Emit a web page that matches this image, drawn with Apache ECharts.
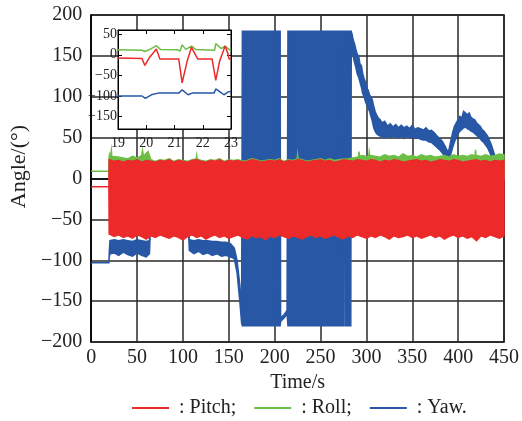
<!DOCTYPE html>
<html><head><meta charset="utf-8">
<script src="https://cdn.jsdelivr.net/npm/echarts@6/dist/echarts.min.js"></script>
<style>html,body{margin:0;padding:0;background:#fff}#c{width:522px;height:421px}</style>
</head><body><div id="c"></div>
<script>
// ---- tick values ----
const mainXTicks = [0,50,100,150,200,250,300,350,400,450];
const mainYTicks = [-200,-150,-100,-50,0,50,100,150,200];
const insetXTicks = [19,20,21,22,23];
const insetYTicks = [-150,-100,-50,0,50];

// ---- main chart: [time, low, high] envelopes ----
const pitch = [
[0,-10,-10],[19.3,-10,-10],[19.6,-68,23],[20,-68,23],[25,-71,21],[30,-69,22],[35,-72,20],[40,-70,22],[45,-73,21],[50,-69,23],[55,-71,20],[60,-74,22],[65,-70,21],[70,-72,20],[75,-69,22],[80,-71,21],[85,-73,23],[90,-70,20],[95,-72,22],[100,-75,21],[105,-71,20],[110,-69,22],[115,-72,23],[120,-70,21],[125,-74,20],[130,-71,22],[135,-69,21],[140,-72,23],[145,-70,20],[150,-73,22],[155,-71,21],[160,-69,22],[165,-72,20],[170,-74,21],[175,-70,23],[180,-72,22],[185,-71,20],[190,-75,21],[195,-70,22],[200,-72,21],[205,-69,23],[210,-71,20],[215,-73,22],[220,-70,21],[225,-72,23],[230,-74,22],[235,-71,20],[240,-69,21],[245,-72,22],[250,-70,23],[255,-73,21],[260,-71,22],[265,-69,20],[270,-72,21],[275,-74,23],[280,-70,22],[285,-72,21],[290,-69,23],[295,-71,22],[300,-73,21],[305,-70,23],[310,-72,22],[315,-69,20],[320,-71,22],[325,-74,21],[330,-70,23],[335,-72,22],[340,-71,20],[345,-69,21],[350,-72,22],[355,-70,23],[360,-73,21],[365,-71,22],[370,-69,20],[375,-72,21],[380,-70,23],[385,-74,22],[390,-71,21],[395,-69,23],[400,-72,22],[405,-70,20],[410,-73,21],[415,-71,22],[420,-76,23],[425,-70,21],[430,-72,22],[435,-69,20],[440,-71,22],[445,-73,21],[450,-70,22]
];
const roll = [
[0,9,9],[19.3,9,9],[19.6,0,26],[20,0,29],[21,0,25],[22,0,34],[22.6,0,26],[25,0,27],[30,0,26],[35,0,25],[40,0,24],[45,0,27],[50,0,25],[55,0,28],[56,0,34],[57,0,27],[60,0,31],[62,0,33],[65,0,23],[70,0,21],[75,0,23],[80,0,22],[85,0,24],[90,0,21],[95,0,23],[100,0,22],[105,0,21],[110,0,23],[114.5,0,24],[115,0,28],[115.5,0,24],[120,0,22],[125,0,21],[130,0,23],[135,0,22],[140,0,24],[145,0,21],[150,0,23],[155,0,22],[160,0,23],[165,0,21],[170,0,22],[175,0,24],[180,0,23],[185,0,21],[190,0,22],[195,0,23],[200,0,22],[205,0,24],[210,0,21],[215,0,23],[220,0,22],[224.5,0,24],[225,0,29],[225.5,0,24],[230,0,23],[235,0,21],[240,0,22],[245,0,23],[250,0,24],[255,0,22],[260,0,24],[265,0,22],[270,0,23],[275,0,24],[280,0,24],[285,0,25],[290,0,26],[291.5,0,27],[292,0,33],[292.5,0,27],[295,0,28],[300,0,27],[302.5,0,27],[303,0,32],[303.5,0,28],[305,0,28],[310,0,27],[315,0,26],[320,0,29],[325,0,27],[330,0,28],[335,0,26],[340,0,30],[345,0,27],[350,0,28],[355,0,26],[360,0,29],[365,0,27],[370,0,28],[375,0,26],[380,0,27],[385,0,28],[390,0,26],[395,0,29],[400,0,27],[405,0,28],[410,0,27],[415,0,29],[418.5,0,28],[419,0,35],[419.5,0,28],[425,0,27],[430,0,29],[435,0,27],[440,0,28],[445,0,30],[450,0,29]
];
const yaw = [
[0,-103,-103],[19.3,-103,-103],[19.8,-95,-88],[20.5,-92,-76],[25,-91,-75],[30,-94,-76],[35,-90,-75],[40,-93,-76],[45,-95,-77],[50,-91,-75],[55,-94,-76],[60,-96,-77],[63.5,-92,-76],[64.5,-62,-45],[106,-62,-45],[107,-88,-75],[112,-92,-76],[117,-89,-75],[122,-93,-76],[127,-91,-76],[132,-94,-77],[137,-92,-77],[142,-95,-78],[147,-94,-78],[152,-96,-80],[156,-98,-85],[159,-115,-100],[162,-150,-130],[164,-177,-160],[164.8,-180,180],[206,-180,180],[206.5,-175,-170],[208,-173,-169],[210,-171,-167],[212,-168,-164],[213.5,-165,-161],[214.5,-180,180],[275.5,-180,180],[275.8,176,180],[277,176,180],[277.3,-180,180],[283,-180,180],[283.5,162,180],[284.5,155,176],[285.5,150,170],[287,142,165],[288.5,136,158],[290,128,152],[291.5,124,150],[293,118,140],[294.5,112,138],[296,104,128],[297.5,100,122],[299,94,118],[300.5,90,110],[302,86,108],[303.5,82,102],[305,76,100],[306.5,70,96],[308,62,88],[309.5,58,82],[311,55,78],[313,53,74],[315,52,72],[317,51,68],[320,50,70],[323,52,64],[326,50,67],[329,52,63],[332,51,66],[335,50,62],[338,52,65],[341,49,62],[344,52,64],[347,50,61],[350,51,65],[353,49,60],[356,50,62],[359,48,61],[362,47,59],[365,47,62],[368,45,58],[371,44,59],[374,41,56],[377,38,52],[380,35,49],[383,31,45],[386,27,39],[388,24,34],[390,25,35],[392,30,46],[394,38,56],[396,45,64],[398,50,68],[400,55,72],[402,58,76],[404,60,74],[406,62,82],[408,63,80],[410,61,78],[412,60,80],[414,58,75],[416,57,73],[418,55,72],[420,53,68],[422,51,66],[424,49,64],[426,46,60],[428,44,58],[430,41,55],[432,38,52],[434,33,47],[436,28,42],[438,24,35],[440,15,28],[442,5,20],[450,0,15]
];

// ---- inset (19–23 s): [time, value] ----
const pitchInset = [[19,-8],[19.85,-9],[19.95,-26],[20.1,-8],[20.36,14],[20.48,-10],[21.15,-10],[21.27,-68],[21.45,-15],[21.6,18],[21.82,-10],[22.33,-10],[22.46,-62],[22.6,-15],[22.79,21],[22.88,5],[22.93,-10],[23,-10]];
const rollInset = [[19,12],[19.85,11],[19.95,8],[20.1,12],[20.36,22],[20.5,13],[21.1,12],[21.2,9],[21.27,24],[21.4,13],[21.6,21],[21.75,13],[22.42,11],[22.46,27],[22.65,15],[22.79,21],[22.95,12],[23,12]];
const yawInset = [[19,-100],[19.85,-100],[19.97,-106],[20.18,-97],[20.42,-93],[21.15,-93],[21.27,-85],[21.48,-97],[21.62,-93],[22.4,-93],[22.46,-83],[22.65,-92],[22.75,-97],[22.9,-90],[23,-89]];

const RED='#EC2A2A', GREEN='#6CBE45', BLUE='#2757A5';
const SERIF='"Liberation Serif","Times New Roman",serif';
const minus = v => String(v).replace('-', '\u2212');

function band(name, data, color, z) {
  return {
    type:'custom', name, z, xAxisIndex:0, yAxisIndex:0, silent:true,
    data, encode:{x:0, y:[1,2]}, itemStyle:{color},
    renderItem(params, api) {
      if (params.dataIndex !== 0) return null;
      const top = data.map(d => api.coord([d[0], d[2]]));
      const bot = data.map(d => api.coord([d[0], d[1]])).reverse();
      return {type:'polygon', shape:{points: top.concat(bot)},
              style:{fill:color, stroke:color, lineWidth:1.5}};
    }
  };
}
function insetLine(name, data, color) {
  return {type:'line', name, data, xAxisIndex:1, yAxisIndex:1, z:8,
    showSymbol:false, lineStyle:{color, width:1.5}, itemStyle:{color}, silent:true};
}

const chart = echarts.init(document.getElementById('c'), null, {renderer:'canvas'});
chart.setOption({
  animation:false,
  backgroundColor:'#fff',
  grid:[
    {left:91, right:15, top:15, bottom:79, show:true, borderColor:'#000', borderWidth:1.5},
    {left:118, top:30, width:113, height:99, show:true, backgroundColor:'#fff', borderColor:'#000', borderWidth:1, z:5}
  ],
  xAxis:[
    {type:'value', gridIndex:0, min:mainXTicks[0], max:mainXTicks[mainXTicks.length-1], interval:50,
     name:'Time/s', nameLocation:'middle', nameGap:28,
     nameTextStyle:{fontFamily:SERIF, fontSize:20, color:'#222'},
     axisLine:{lineStyle:{color:'#000', width:1.5}}, axisTick:{show:false},
     axisLabel:{fontFamily:SERIF, fontSize:20, color:'#222', margin:6},
     splitLine:{show:true, lineStyle:{color:'#2a2a2a', width:1.5}}},
    {type:'value', gridIndex:1, min:insetXTicks[0], max:insetXTicks[insetXTicks.length-1], interval:1, z:6,
     axisLine:{onZero:false, lineStyle:{color:'#000', width:1}},
     axisTick:{inside:true, length:4, lineStyle:{color:'#000'}},
     axisLabel:{fontFamily:SERIF, fontSize:14, color:'#222', margin:7},
     splitLine:{show:false}},
    {type:'value', gridIndex:1, position:'top', min:insetXTicks[0], max:insetXTicks[insetXTicks.length-1], interval:1, z:6,
     axisLine:{onZero:false, lineStyle:{color:'#000', width:1}},
     axisTick:{inside:true, length:4, lineStyle:{color:'#000'}},
     axisLabel:{show:false}, splitLine:{show:false}}
  ],
  yAxis:[
    {type:'value', gridIndex:0, min:mainYTicks[0], max:mainYTicks[mainYTicks.length-1], interval:50,
     name:'Angle/(°)', nameLocation:'middle', nameGap:58, nameRotate:90,
     nameTextStyle:{fontFamily:SERIF, fontSize:22, color:'#222', padding:[0,0,0,24]},
     axisLine:{lineStyle:{color:'#000', width:1.5}}, axisTick:{show:false},
     axisLabel:{fontFamily:SERIF, fontSize:20, color:'#222', margin:9, formatter:minus},
     splitLine:{show:true, lineStyle:{color:'#2a2a2a', width:1.5}}},
    {type:'value', gridIndex:1, min:-180, max:60, z:6,
     axisLine:{onZero:false, lineStyle:{color:'#000', width:1}},
     axisTick:{inside:true, length:4, customValues:insetYTicks, lineStyle:{color:'#000'}},
     axisLabel:{fontFamily:SERIF, fontSize:14, color:'#222', margin:1, customValues:insetYTicks, formatter:minus},
     splitLine:{show:false}},
    {type:'value', gridIndex:1, position:'right', min:-180, max:60, z:6,
     axisLine:{onZero:false, lineStyle:{color:'#000', width:1}},
     axisTick:{inside:true, length:4, customValues:insetYTicks, lineStyle:{color:'#000'}},
     axisLabel:{show:false}, splitLine:{show:false}}
  ],
  legend:{
    left:132, top:398, padding:0, itemWidth:37, itemHeight:2, itemGap:18, icon:'rect',
    textStyle:{fontFamily:SERIF, fontSize:20, color:'#222', padding:[0,0,0,5]},
    data:[': Pitch;', ': Roll;', ': Yaw.']
  },
  series:[
    band(': Yaw.', yaw, BLUE, 2),
    band(': Roll;', roll, GREEN, 3),
    band(': Pitch;', pitch, RED, 4),
    insetLine(': Yaw.', yawInset, BLUE),
    insetLine(': Roll;', rollInset, GREEN),
    insetLine(': Pitch;', pitchInset, RED)
  ]
});
</script>
</body></html>
